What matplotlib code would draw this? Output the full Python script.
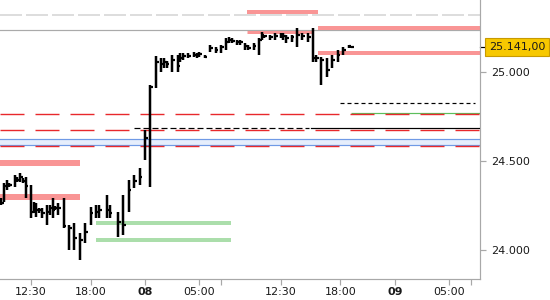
import matplotlib
matplotlib.use('Agg')
import matplotlib.pyplot as plt
import matplotlib.transforms as mtransforms
import numpy as np

# 15-minute slots on the trading clock (slot 0 = 12:30 day 7, break hour removed)
slot = [-11, -10, -9, -8, -6, -5, -4, -3, -2, 0, 1, 2, 3, 4, 6, 7, 8, 9, 10, 12,
        14, 16, 18, 20, 22, 24, 25, 28, 29, 32, 34, 36, 38, 40, 42, 44, 46, 48, 49, 50,
        52, 54, 55, 56, 58, 60, 61, 62, 64, 66, 68, 70, 72, 73, 74, 76, 77, 79, 80, 82,
        84, 85, 86, 88, 90, 92, 93, 94, 96, 98, 100, 102, 104, 105, 107, 109, 111, 113, 115, 117,
        118]
high = [24293, 24377, 24394, 24377, 24423, 24411, 24434, 24406, 24411, 24366, 24270, 24265, 24237, 24237, 24254, 24254, 24293, 24248, 24265, 24293,
        24141, 24152, 24096, 24152, 24242, 24254, 24254, 24310, 24254, 24214, 24310, 24394, 24423, 24462, 24676, 24930, 25093, 25082, 25082, 25065,
        25099, 25099, 25110, 25110, 25110, 25116, 25110, 25116, 25099, 25155, 25144, 25155, 25194, 25200, 25194, 25183, 25183, 25166, 25155, 25166,
        25194, 25228, 25211, 25211, 25223, 25223, 25223, 25211, 25211, 25251, 25223, 25223, 25251, 25099, 25087, 25082, 25099, 25127, 25144, 25155,
        25144]
low = [24254, 24270, 24338, 24355, 24355, 24383, 24383, 24377, 24293, 24180, 24208, 24186, 24208, 24180, 24141, 24197, 24180, 24225, 24197, 24124,
       24000, 24000, 23944, 24039, 24141, 24180, 24180, 24180, 24180, 24073, 24085, 24214, 24349, 24366, 24507, 24355, 24913, 25003, 25025, 25025,
       25003, 25003, 25059, 25070, 25082, 25087, 25082, 25087, 25082, 25116, 25110, 25110, 25127, 25166, 25166, 25155, 25155, 25127, 25127, 25127,
       25099, 25183, 25194, 25183, 25183, 25194, 25183, 25166, 25172, 25144, 25183, 25172, 25059, 25059, 24930, 24975, 25025, 25059, 25099, 25138,
       25138]
close = [24265, 24361, 24366, 24366, 24406, 24394, 24411, 24389, 24361, 24214, 24225, 24225, 24225, 24208, 24214, 24237, 24225, 24237, 24237, 24135,
         24124, 24068, 24056, 24101, 24208, 24214, 24225, 24225, 24208, 24158, 24141, 24338, 24389, 24411, 24631, 24918, 25059, 25048, 25059, 25048,
         25070, 25037, 25082, 25093, 25093, 25099, 25099, 25104, 25087, 25138, 25127, 25144, 25172, 25183, 25178, 25172, 25172, 25149, 25138, 25149,
         25183, 25211, 25206, 25200, 25206, 25211, 25206, 25194, 25200, 25211, 25206, 25200, 25082, 25082, 25070, 25014, 25070, 25099, 25127, 25149,
         25141]

# x axis ticks (slot, label, bold)
tick_slots = [0, 22, 42, 62, 70, 92, 114, 134, 154, 162]
tick_labels = ['12:30', '18:00', '08', '05:00', '', '12:30', '18:00', '09', '05:00', '']
tick_bold = ['08', '09']
y_ticks = [24000, 24500, 25000]

# horizontal zones: (start slot, end slot, price)
red_zones = [(79.6, 105.7, 25338), (79.6, 103.9, 25228), (105.7, 166, 25251),
             (105.7, 166, 25107), (-12, 18.0, 24490), (-12, 18.0, 24299)]
red_widths = [4, 3, 4, 4, 6, 6]
green_zones = [(23.9, 73.7, 24155), (23.9, 73.7, 24059)]
red_dashed = [24766, 24676, 24586]
blue_band = (24593, 24624)
grey_dashed = 25322
grey_line = 25240
black_short = (113.8, 163.5, 24826)
black_dashed = (37.9, 102.4, 24687)
black_solid = (103.1, 166, 24687)
green_thin = (117.9, 166, 24769)

PX = 72 / 100  # points per pixel


def dash(on, off, lw_px):
    return (on / lw_px, off / lw_px)


fig = plt.figure(figsize=(5.5, 3), dpi=100)
ax = fig.add_axes([0, 21 / 300, 480 / 550, 279 / 300])
ax.set_xlim(-11.42, 165.4)
ax.set_ylim(23837, 25408)

# levels
ax.axhline(grey_dashed, color='#dadada', lw=1.8 * PX, dashes=dash(22, 4, 1.8), zorder=1)
ax.axhline(grey_line, color='#aaaaaa', lw=1.2 * PX, zorder=1)
for (x0, x1, p), w in zip(red_zones, red_widths):
    ax.hlines(p, x0, x1, color='#f99595', lw=w * PX, zorder=2)
for x0, x1, p in green_zones:
    ax.hlines(p, x0, x1, color='#abdeab', lw=4 * PX, zorder=2)
ax.axhspan(blue_band[0], blue_band[1], color='#e6eefc', lw=0, zorder=1)
for p in blue_band:
    ax.axhline(p, color='#6f9ae6', lw=1.2 * PX, zorder=2)
ax.hlines(green_thin[2], green_thin[0], green_thin[1], color='#5cbf5c', lw=1.2 * PX, zorder=2)
for p in red_dashed:
    ax.axhline(p, color='#e8282c', lw=1.4 * PX, dashes=dash(24, 11, 1.4), zorder=3)
ax.plot(black_short[:2], [black_short[2]] * 2, color='black', lw=1.2 * PX, dashes=dash(4, 3, 1.2), zorder=3)
ax.plot(black_dashed[:2], [black_dashed[2]] * 2, color='black', lw=1.2 * PX, dashes=dash(6, 3, 1.2), zorder=3)
ax.plot(black_solid[:2], [black_solid[2]] * 2, color='black', lw=1.2 * PX, zorder=3)

# HLC bars
x = np.array(slot)
ax.vlines(x, low, high, color='black', lw=2.5 * PX, zorder=5)
ax.hlines(close, x, x + 1.0, color='black', lw=2.2 * PX, zorder=5)

# axes styling
for s in ['left', 'top']:
    ax.spines[s].set_visible(False)
for s in ['bottom', 'right']:
    ax.spines[s].set_color('#a8a8a8')
    ax.spines[s].set_linewidth(1.2 * PX)
ax.yaxis.tick_right()
ax.set_yticks(y_ticks)
ax.set_yticklabels([f'{v:,}'.replace(',', '.') for v in y_ticks])
ax.set_xticks(tick_slots)
ax.set_xticklabels(tick_labels)
for lab in ax.get_xticklabels():
    if lab.get_text() in tick_bold:
        lab.set_fontweight('bold')
ax.tick_params(axis='y', length=4, width=1.2 * PX, color='#a8a8a8', pad=4,
               labelsize=8, labelcolor='#1a1a1a')
ax.tick_params(axis='x', length=4, width=1.2 * PX, color='#a8a8a8', pad=1.5,
               labelsize=8, labelcolor='#1a1a1a')

# last price tag
last = close[-1]
label = f'{last:,.2f}'.replace(',', 'X').replace('.', ',').replace('X', '.')
trans = mtransforms.blended_transform_factory(ax.transAxes, ax.transData)
ax.plot([1.0, 1.0 + 5 / 480], [last, last], color='black', lw=1.2 * PX,
        transform=trans, clip_on=False)
ax.text(1.0, last, label, transform=mtransforms.offset_copy(trans, fig=fig, x=9, y=0, units='dots'),
        ha='left', va='center', fontsize=8, color='#1a1a1a',
        bbox=dict(boxstyle='square,pad=0.36', fc='#f7c800', ec='#c89a00', lw=0.8))

fig.savefig('out.png', dpi=100)
